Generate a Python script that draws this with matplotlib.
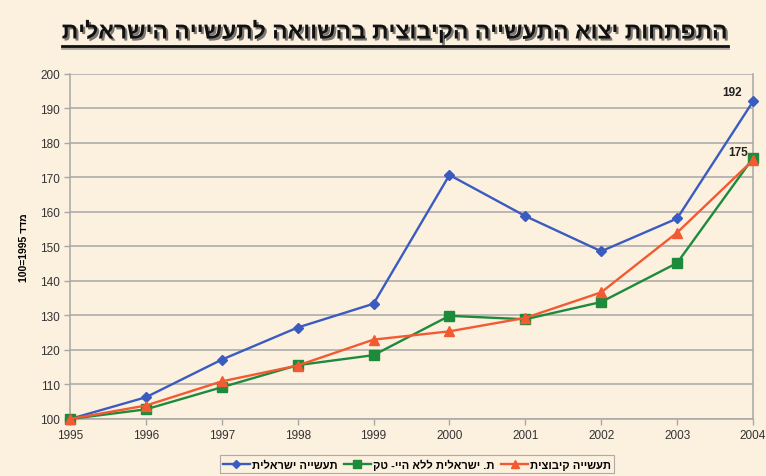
import matplotlib
matplotlib.use('Agg')
import matplotlib.pyplot as plt
import matplotlib.patheffects as pe
from matplotlib.lines import Line2D

plt.rcParams['font.family'] = ['Liberation Sans', 'DejaVu Sans']


def heb(s):
    # matplotlib has no bidi support, so lay Hebrew out in visual order
    return s[::-1]


years = [1995, 1996, 1997, 1998, 1999, 2000, 2001, 2002, 2003, 2004]
israeli = [100, 106.3, 117.2, 126.5, 133.4, 170.7, 158.8, 148.6, 158.1, 192]
no_hitech = [100, 102.8, 109.2, 115.6, 118.5, 129.9, 128.9, 133.9, 145.2, 175.6]
kibbutz = [100, 103.9, 110.9, 115.5, 123.0, 125.4, 129.3, 136.7, 154.0, 175]

title = 'התפתחות יצוא התעשייה הקיבוצית בהשוואה לתעשייה הישראלית'
ylabel = '100=1995 ' + heb('מדד')
names = ['תעשייה ישראלית', 'ת. ישראלית ללא היי- טק', 'תעשייה קיבוצית']

bg = '#fcf0df'
grid_c = '#a8a8a8'

fig = plt.figure(figsize=(7.66, 4.77), dpi=100, facecolor=bg)
ax = fig.add_axes([0.0914, 0.1195, 0.8916, 0.7235], facecolor=bg)

ax.plot(years, israeli, color='#3a5cc0', lw=1.7, marker='D', ms=5.5,
        label=heb(names[0]), zorder=3, clip_on=False)
ax.plot(years, no_hitech, color='#1e8a3c', lw=1.7, marker='s', ms=6.5,
        label=heb(names[1]), zorder=3, clip_on=False)
ax.plot(years, kibbutz, color='#f25a32', lw=1.7, marker='^', ms=7,
        label=heb(names[2]), zorder=4, clip_on=False)

ax.set_xlim(1995, 2004)
ax.set_ylim(100, 200)
ax.set_xticks(years)
ax.set_yticks(range(100, 201, 10))
ax.tick_params(axis='both', labelsize=8.5, colors='#333333', length=4,
               width=1, pad=3)
ax.tick_params(axis='both', color=grid_c)
ax.yaxis.grid(True, color=grid_c, lw=1.1)
ax.set_axisbelow(True)
for side in ['left', 'bottom', 'right']:
    ax.spines[side].set_color(grid_c)
    ax.spines[side].set_linewidth(1.1)
ax.spines['top'].set_visible(False)

ax.set_ylabel(ylabel, fontsize=7.5, fontweight='bold', labelpad=8)

ax.annotate('192', (years[-1], israeli[-1]), xytext=(-15, 5),
            textcoords='offset points', ha='center', fontsize=8.5,
            fontweight='bold', color='#222222')
ax.annotate('175', (years[-1], kibbutz[-1]), xytext=(-11, 4),
            textcoords='offset points', ha='center', fontsize=8.5,
            fontweight='bold', color='#222222')

leg = ax.legend(loc='center', bbox_to_anchor=(417 / 766, 1 - 465 / 477),
                bbox_transform=fig.transFigure, ncol=3, fontsize=8,
                frameon=True, fancybox=False, edgecolor='#999999',
                handlelength=2.4, handletextpad=0.2, columnspacing=0.6,
                borderpad=0.3, markerscale=0.8)
leg.get_frame().set_facecolor(bg)
leg.get_frame().set_linewidth(0.8)
for t in leg.get_texts():
    t.set_fontweight('bold')

ttl = fig.text(395 / 766, 1 - 33 / 477, heb(title), ha='center', va='center',
               fontsize=16.5, fontweight='bold', color='#111111',
               path_effects=[pe.SimplePatchShadow(offset=(1.5, -1.5),
                                                  shadow_rgbFace='#444444',
                                                  alpha=0.7),
                             pe.Normal()])

# underline under the title
fig.canvas.draw()
bb = ttl.get_window_extent().transformed(fig.transFigure.inverted())
uy = bb.y0 - 0.006
fig.add_artist(Line2D([bb.x0, bb.x1], [uy - 0.004, uy - 0.004], color='#777777',
                      lw=2, alpha=0.6, transform=fig.transFigure))
fig.add_artist(Line2D([bb.x0, bb.x1], [uy, uy], color='#111111', lw=2,
                      transform=fig.transFigure))

plt.savefig('out.png', dpi=100, facecolor=bg)
plt.close()
